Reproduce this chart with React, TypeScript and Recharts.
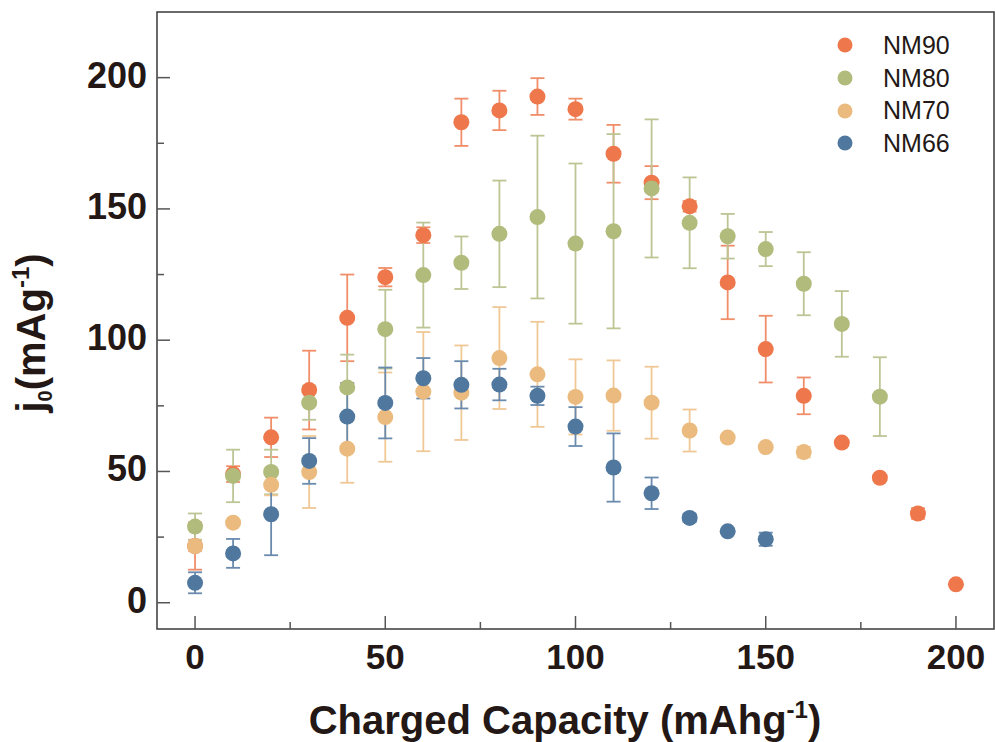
import React from 'react';
import { ScatterChart, Scatter, XAxis, YAxis, ErrorBar, ReferenceArea, Legend } from 'recharts';

// charged capacity steps (mAh/g)
const capacity = [0, 10, 20, 30, 40, 50, 60, 70, 80, 90, 100, 110, 120, 130, 140, 150, 160, 170, 180, 190, 200];

const nm90 = [21.6, 49, 63, 81, 108.5, 124, 140, 183, 187.5, 192.8, 188, 171, 160, 151, 122, 96.6, 78.8, 61, 47.6, 34, 7];
const nm90Err = [9, 3, 7.5, 15, 16.5, 3.5, 3, 9, 7.5, 7, 4, 11, 6.3, 2, 14, 12.7, 7, 0, 0, 2, 0];

const nm80 = [29, 48.3, 49.8, 76.2, 82, 104.2, 124.8, 129.5, 140.5, 146.9, 136.8, 141.5, 157.8, 144.7, 139.6, 134.7, 121.5, 106.2, 78.5];
const nm80Err = [5, 10, 8.5, 6.5, 12.5, 15, 20, 10, 20.3, 31, 30.5, 37, 26.3, 17.3, 8.5, 6.5, 12, 12.5, 15];

const nm70 = [21.6, 30.5, 44.9, 49.8, 58.7, 70.7, 80.4, 80, 93.2, 87, 78.4, 78.9, 76.2, 65.6, 62.9, 59.3, 57.4];
const nm70Err = [2, 0, 4, 13.7, 13, 17, 22.7, 18, 19.4, 20, 14.3, 13.4, 13.7, 8, 0, 0, 2];

const nm66 = [7.6, 18.8, 33.7, 54, 70.9, 76.1, 85.5, 83, 83.1, 78.8, 67.1, 51.5, 41.7, 32.3, 27.2, 24.2];
const nm66Err = [4, 5.5, 15.6, 8.7, 12.8, 13.5, 7.7, 9, 6, 3.5, 7.4, 13, 6, 1.5, 0, 2.5];

const xTicks = [0, 25, 50, 75, 100, 125, 150, 175, 200];
const yTicks = [0, 25, 50, 75, 100, 125, 150, 175, 200];

const FONT = '"Liberation Sans", Arial, Helvetica, sans-serif';
const TEXT = '#231815';
const PLOT = { left: 157, top: 12, right: 994, bottom: 629 };

const build = (vals: number[], errs: number[]) =>
  vals.map((v, i) => ({ x: capacity[i], y: v, err: errs[i] }));

const series = [
  { name: 'NM90', data: build(nm90, nm90Err), color: '#EE774B', bar: '#F08E6A' },
  { name: 'NM80', data: build(nm80, nm80Err), color: '#B1BB7C', bar: '#BCC594' },
  { name: 'NM70', data: build(nm70, nm70Err), color: '#EBBA7E', bar: '#EFC896' },
  { name: 'NM66', data: build(nm66, nm66Err), color: '#50789F', bar: '#6A8BAE' },
];

const XTick = (props: any) => {
  const { x, payload } = props;
  const major = payload.value % 50 === 0;
  return (
    <g>
      <line x1={x} x2={x} y1={PLOT.bottom} y2={PLOT.bottom - (major ? 13 : 7)} stroke="#555" strokeWidth={1.5} />
      {major && (
        <text x={x} y={669} textAnchor="middle" fontFamily={FONT} fontSize={35} fontWeight="bold" fill={TEXT}>
          {payload.value}
        </text>
      )}
    </g>
  );
};

const YTick = (props: any) => {
  const { y, payload } = props;
  const major = payload.value % 50 === 0;
  return (
    <g>
      <line x1={PLOT.left} x2={PLOT.left + (major ? 13 : 7)} y1={y} y2={y} stroke="#555" strokeWidth={1.5} />
      {major && (
        <text x={147} y={y + 10} textAnchor="end" fontFamily={FONT} fontSize={36} fontWeight="bold" fill={TEXT}>
          {payload.value}
        </text>
      )}
    </g>
  );
};

const XTitle = () => (
  <text x={565} y={734} textAnchor="middle" fontFamily={FONT} fontSize={40} fontWeight="bold" fill={TEXT}>
    Charged Capacity (mAhg
    <tspan fontSize={24} dy={-16}>-1</tspan>
    <tspan dy={16}>)</tspan>
  </text>
);

const YTitle = () => (
  <text
    transform="translate(45, 333) rotate(-90)"
    textAnchor="middle"
    fontFamily={FONT}
    fontSize={40}
    fontWeight="bold"
    fill={TEXT}
  >
    j<tspan fontSize={20} dy={7}>0</tspan>
    <tspan dy={-7}>(mAg</tspan>
    <tspan fontSize={24} dy={-16}>-1</tspan>
    <tspan dy={16}>)</tspan>
  </text>
);

const LegendBox = () => (
  <div style={{ fontFamily: FONT }}>
    {series.map((s) => (
      <div key={s.name} style={{ display: 'flex', alignItems: 'center', height: 32.7 }}>
        <svg width={16} height={16} style={{ display: 'block' }}>
          <circle cx={8} cy={8} r={7.5} fill={s.color} />
        </svg>
        <span style={{ marginLeft: 30, fontSize: 25, color: TEXT, lineHeight: '32.7px' }}>{s.name}</span>
      </div>
    ))}
  </div>
);

export default function App() {
  return (
    <div style={{ position: 'absolute', left: 0, top: 0, width: 995, height: 742, background: '#fff' }}>
      <ScatterChart width={995} height={742} margin={{ top: 12, right: 1, bottom: 0, left: 0 }}>
        <XAxis
          type="number"
          dataKey="x"
          domain={[-10, 210]}
          ticks={xTicks}
          interval={0}
          tick={<XTick />}
          tickLine={false}
          axisLine={false}
          height={113}
          allowDataOverflow
          label={<XTitle />}
        />
        <YAxis
          type="number"
          dataKey="y"
          domain={[-10, 225]}
          ticks={yTicks}
          interval={0}
          tick={<YTick />}
          tickLine={false}
          axisLine={false}
          width={157}
          allowDataOverflow
          label={<YTitle />}
        />
        <ReferenceArea x1={-10} x2={210} y1={-10} y2={225} fill="none" fillOpacity={0} stroke="#3a3a3a" strokeWidth={1.5} />
        {series.map((s) => (
          <Scatter
            key={s.name}
            name={s.name}
            data={s.data}
            fill={s.color}
            isAnimationActive={false}
            shape={(p: any) => <circle cx={p.cx} cy={p.cy} r={8} fill={s.color} />}
          >
            <ErrorBar dataKey="err" direction="y" width={7} stroke={s.bar} strokeWidth={1.8} />
          </Scatter>
        ))}
        <Legend
          layout="vertical"
          align="center"
          verticalAlign="middle"
          wrapperStyle={{ left: 837, top: 29, width: 150, height: 'auto' }}
          content={() => <LegendBox />}
        />
      </ScatterChart>
    </div>
  );
}
